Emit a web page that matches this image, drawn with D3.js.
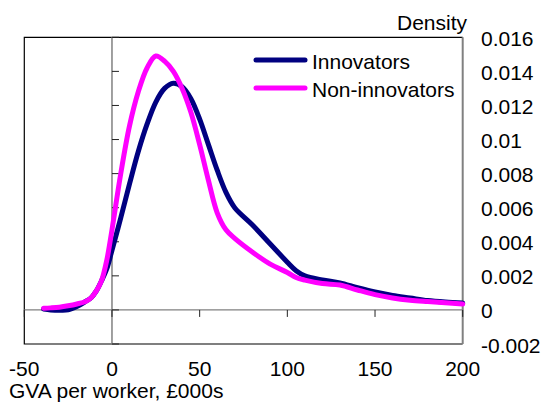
<!DOCTYPE html>
<html>
<head>
<meta charset="utf-8">
<script src="https://cdn.jsdelivr.net/npm/d3@7"></script>
<style>
  html, body { margin: 0; padding: 0; background: #fff; }
  svg { display: block; }
  text { font-family: "Liberation Sans", Arial, sans-serif; fill: #000; }
</style>
</head>
<body>
<svg id="chart" width="544" height="403"></svg>
<script>
// ---- data ----
const xValues = [-39,-35,-30,-25,-20,-15,-12,-9,-6,-3,0,5,10,15,20,25,30,35,40,45,50,55,60,65,70,80,90,100,105,110,120,130,140,150,160,170,180,190,200];
const innovators = [0.00005,0.0,-0.00002,0.0,0.0002,0.0005,0.0007,0.0011,0.0017,0.0024,0.0035,0.0054,0.0074,0.0093,0.0109,0.0122,0.0130,0.0133,0.0131,0.0124,0.0112,0.0097,0.0082,0.0069,0.0060,0.0050,0.0039,0.0028,0.0023,0.0020,0.00176,0.00158,0.0013,0.00105,0.00085,0.0007,0.00055,0.00046,0.0004];
const nonInnovators = [0.0001,0.00012,0.00016,0.00024,0.00035,0.0005,0.0007,0.0011,0.0017,0.0029,0.0047,0.0080,0.0108,0.0128,0.0142,0.0149,0.0146,0.0140,0.0130,0.0116,0.0097,0.0076,0.0057,0.0047,0.0042,0.0034,0.0027,0.0022,0.0019,0.00175,0.00155,0.00146,0.00117,0.0009,0.0007,0.00057,0.00049,0.00042,0.00035];
const seriesNames = ["Innovators", "Non-innovators"];
const seriesColors = ["#000080", "#FF00FF"];
const xTicks = [-50, 0, 50, 100, 150, 200];
const yTicks = [-0.002, 0, 0.002, 0.004, 0.006, 0.008, 0.01, 0.012, 0.014, 0.016];
const xTitle = "GVA per worker, £000s";
const yTitle = "Density";

// ---- layout ----
const svg = d3.select("#chart");
const L = 24.3, R = 462.7, T = 37.3, B = 344;
const x = d3.scaleLinear().domain([-50, 200]).range([L, R]);
const y = d3.scaleLinear().domain([-0.002, 0.016]).range([B, T]);
const fs = 21;

// plot border (left, top, bottom black)
svg.append("path")
  .attr("d", `M${R},${T}H${L}V${B}H${R}`)
  .attr("fill", "none").attr("stroke", "#000").attr("stroke-width", 1.2);
// right axis line (gray)
svg.append("line").attr("x1", R).attr("x2", R).attr("y1", T).attr("y2", B)
  .attr("stroke", "#808080").attr("stroke-width", 2);

// zero horizontal line
svg.append("line").attr("x1", L).attr("x2", R).attr("y1", y(0)).attr("y2", y(0))
  .attr("stroke", "#808080").attr("stroke-width", 1.3);
// vertical axis at x=0
svg.append("line").attr("x1", x(0)).attr("x2", x(0)).attr("y1", T).attr("y2", B)
  .attr("stroke", "#808080").attr("stroke-width", 1.5);

// ticks on the x=0 axis (pointing right)
svg.append("g").selectAll("line").data(yTicks).join("line")
  .attr("x1", x(0)).attr("x2", x(0) + 7)
  .attr("y1", d => y(d)).attr("y2", d => y(d))
  .attr("stroke", "#222").attr("stroke-width", 1);
// ticks on the zero line (pointing down)
svg.append("g").selectAll("line").data(xTicks).join("line")
  .attr("x1", d => x(d)).attr("x2", d => x(d))
  .attr("y1", y(0)).attr("y2", y(0) + 7)
  .attr("stroke", "#222").attr("stroke-width", 1);

// y tick labels on the right
svg.append("g").selectAll("text").data(yTicks).join("text")
  .attr("x", 481).attr("y", d => y(d) + 1)
  .attr("dominant-baseline", "central")
  .attr("font-size", fs)
  .text(d => String(+d.toFixed(3)));

// x tick labels
svg.append("g").selectAll("text").data(xTicks).join("text")
  .attr("x", d => x(d)).attr("y", 376)
  .attr("text-anchor", "middle")
  .attr("font-size", fs)
  .text(d => String(d));

// titles
svg.append("text").attr("x", 9).attr("y", 398).attr("font-size", fs).text(xTitle);
svg.append("text").attr("x", 467).attr("y", 30).attr("text-anchor", "end").attr("font-size", fs).text(yTitle);

// curves
const line = d3.line().x(d => x(d[0])).y(d => y(d[1])).curve(d3.curveCatmullRom.alpha(0.5));
const series = [innovators, nonInnovators];
series.forEach((vals, i) => {
  svg.append("path")
    .datum(xValues.map((xv, j) => [xv, vals[j]]))
    .attr("d", line)
    .attr("fill", "none")
    .attr("stroke", seriesColors[i])
    .attr("stroke-width", 5)
    .attr("stroke-linecap", "round")
    .attr("stroke-linejoin", "round");
});

// legend
const legY = [60, 88];
seriesNames.forEach((name, i) => {
  svg.append("line").attr("x1", 256).attr("x2", 305).attr("y1", legY[i]).attr("y2", legY[i])
    .attr("stroke", seriesColors[i]).attr("stroke-width", 5).attr("stroke-linecap", "round");
  svg.append("text").attr("x", 312).attr("y", legY[i] + 1)
    .attr("dominant-baseline", "central").attr("font-size", fs).text(name);
});
</script>
</body>
</html>
